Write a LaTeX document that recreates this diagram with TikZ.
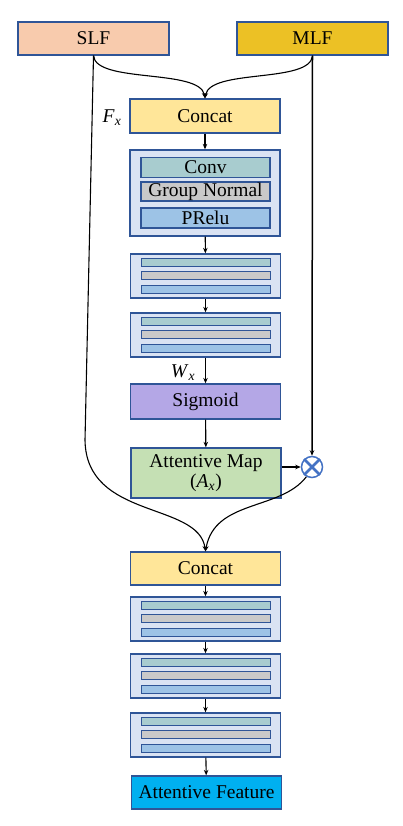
\documentclass[tikz,border=0pt]{standalone}
\usepackage{fontspec}
\setmainfont{Liberation Serif}
\usetikzlibrary{arrows.meta}
\definecolor{bd}{HTML}{2F5597}
\definecolor{cslf}{HTML}{F8CBAD}
\definecolor{cmlf}{HTML}{ECC125}
\definecolor{ccat}{HTML}{FFE699}
\definecolor{cblk}{HTML}{DAE3F3}
\definecolor{cconv}{HTML}{A8CCCF}
\definecolor{cgn}{HTML}{C9C9C9}
\definecolor{cpr}{HTML}{9DC3E6}
\definecolor{csig}{HTML}{B4A7E6}
\definecolor{cmap}{HTML}{C5E0B4}
\definecolor{caf}{HTML}{00B0F0}
\definecolor{cx}{HTML}{4472C4}
\newcommand\lstack[2]{%
  \node[box, fill=cblk, minimum height=44pt] (#1) at (205.5,#2+22) {};
  \node[bar, fill=cconv] (#1a) at (205.5,#2+8) {};
  \node[bar, fill=cgn] (#1b) at (205.5,#2+21) {};
  \node[bar, fill=cpr] (#1c) at (205.5,#2+35) {};
}
\begin{document}
\begin{tikzpicture}[x=1pt,y=-1pt,
  box/.style={draw=bd, line width=1.3pt, minimum width=150pt, inner sep=0pt,
    font=\fontsize{19.5}{22}\selectfont},
  bar/.style={draw=bd, line width=1pt, minimum width=129pt, minimum height=8pt, inner sep=0pt},
  inbar/.style={draw=bd, line width=1.2pt, minimum width=129pt, minimum height=20pt, inner sep=0pt,
    font=\fontsize{19.5}{22}\selectfont},
  con/.style={line width=1.1pt, -{Stealth[length=5.5pt,width=4.5pt]}},
  lab/.style={font=\fontsize{19.5}{22}\selectfont, inner sep=0pt},
]
\useasboundingbox (0,0) rectangle (402,826);

\node[box, fill=cslf, minimum width=151pt, minimum height=33pt] (slf) at (93.5,38.5) {SLF};
\node[box, fill=cmlf, minimum width=151pt, minimum height=33pt] (mlf) at (312.5,38.5) {MLF};

\node[box, fill=ccat, minimum height=34pt] (cat1) at (205,116) {Concat};
\node[lab] (fx) at (112,118) {\textit{F}\textsubscript{\textit{x}}};

\node[box, fill=cblk, minimum height=86pt] (b1) at (205,193) {};
\node[inbar, fill=cconv] (conv) at (205.5,167.5) {Conv};
\node[inbar, fill=cgn, minimum height=19pt] (gn) at (205.5,191.5) {Group Normal};
\node[inbar, fill=cpr] (pr) at (205.5,218) {PRelu};

\lstack{b2}{254}
\lstack{b3}{313}

\node[lab] (wx) at (183,373) {\textit{W}\textsubscript{\textit{x}}};
\node[box, fill=csig, minimum height=35pt] (sig) at (205.5,401.5) {Sigmoid};
\node[box, fill=cmap, minimum height=50pt, align=center] (amap) at (206,473)
  {Attentive Map\\[-2pt](\textit{A}\textsubscript{\textit{x}})};
\node[circle, draw=cx, fill=white, line width=1.5pt, minimum size=21pt, inner sep=0pt] (mul) at (312,467) {};
\draw[cx, line width=2.6pt] (mul.45) -- (mul.225) (mul.135) -- (mul.315);

\node[box, fill=ccat, minimum height=33pt] (cat2) at (205.5,568.5) {Concat};
\lstack{b4}{597}
\lstack{b5}{654}
\lstack{b6}{713}
\node[box, fill=caf, minimum height=33pt] (af) at (206.5,792.5) {Attentive Feature};

\coordinate (bend) at (85,440);

% connectors
\draw[con] (slf.south) .. controls +(2,28) and +(-5,-30) .. (cat1.north);
\draw[con] (mlf.south) .. controls +(-2,28) and +(5,-30) .. (cat1.north);
\draw[con] (slf.south) -- (bend) .. controls +(1,80) and +(-7,-50) .. (cat2.north);
\draw[con, line width=1.5pt] (mlf.south) -- (mul.north);
\draw[con, line width=1.4pt] (amap.east |- mul.west) -- (mul.west);
\draw[con] (mul.240) .. controls +(-26,34) and +(9,-52) .. (cat2.north);

\draw[con] (cat1) -- (b1);
\draw[con] (b1) -- (b2);
\draw[con] (b2) -- (b3);
\draw[con] (b3) -- (sig);
\draw[con] (sig) -- (amap);
\draw[con] (cat2) -- (b4);
\draw[con] (b4) -- (b5);
\draw[con] (b5) -- (b6);
\draw[con] (b6) -- (af);
\end{tikzpicture}
\end{document}
